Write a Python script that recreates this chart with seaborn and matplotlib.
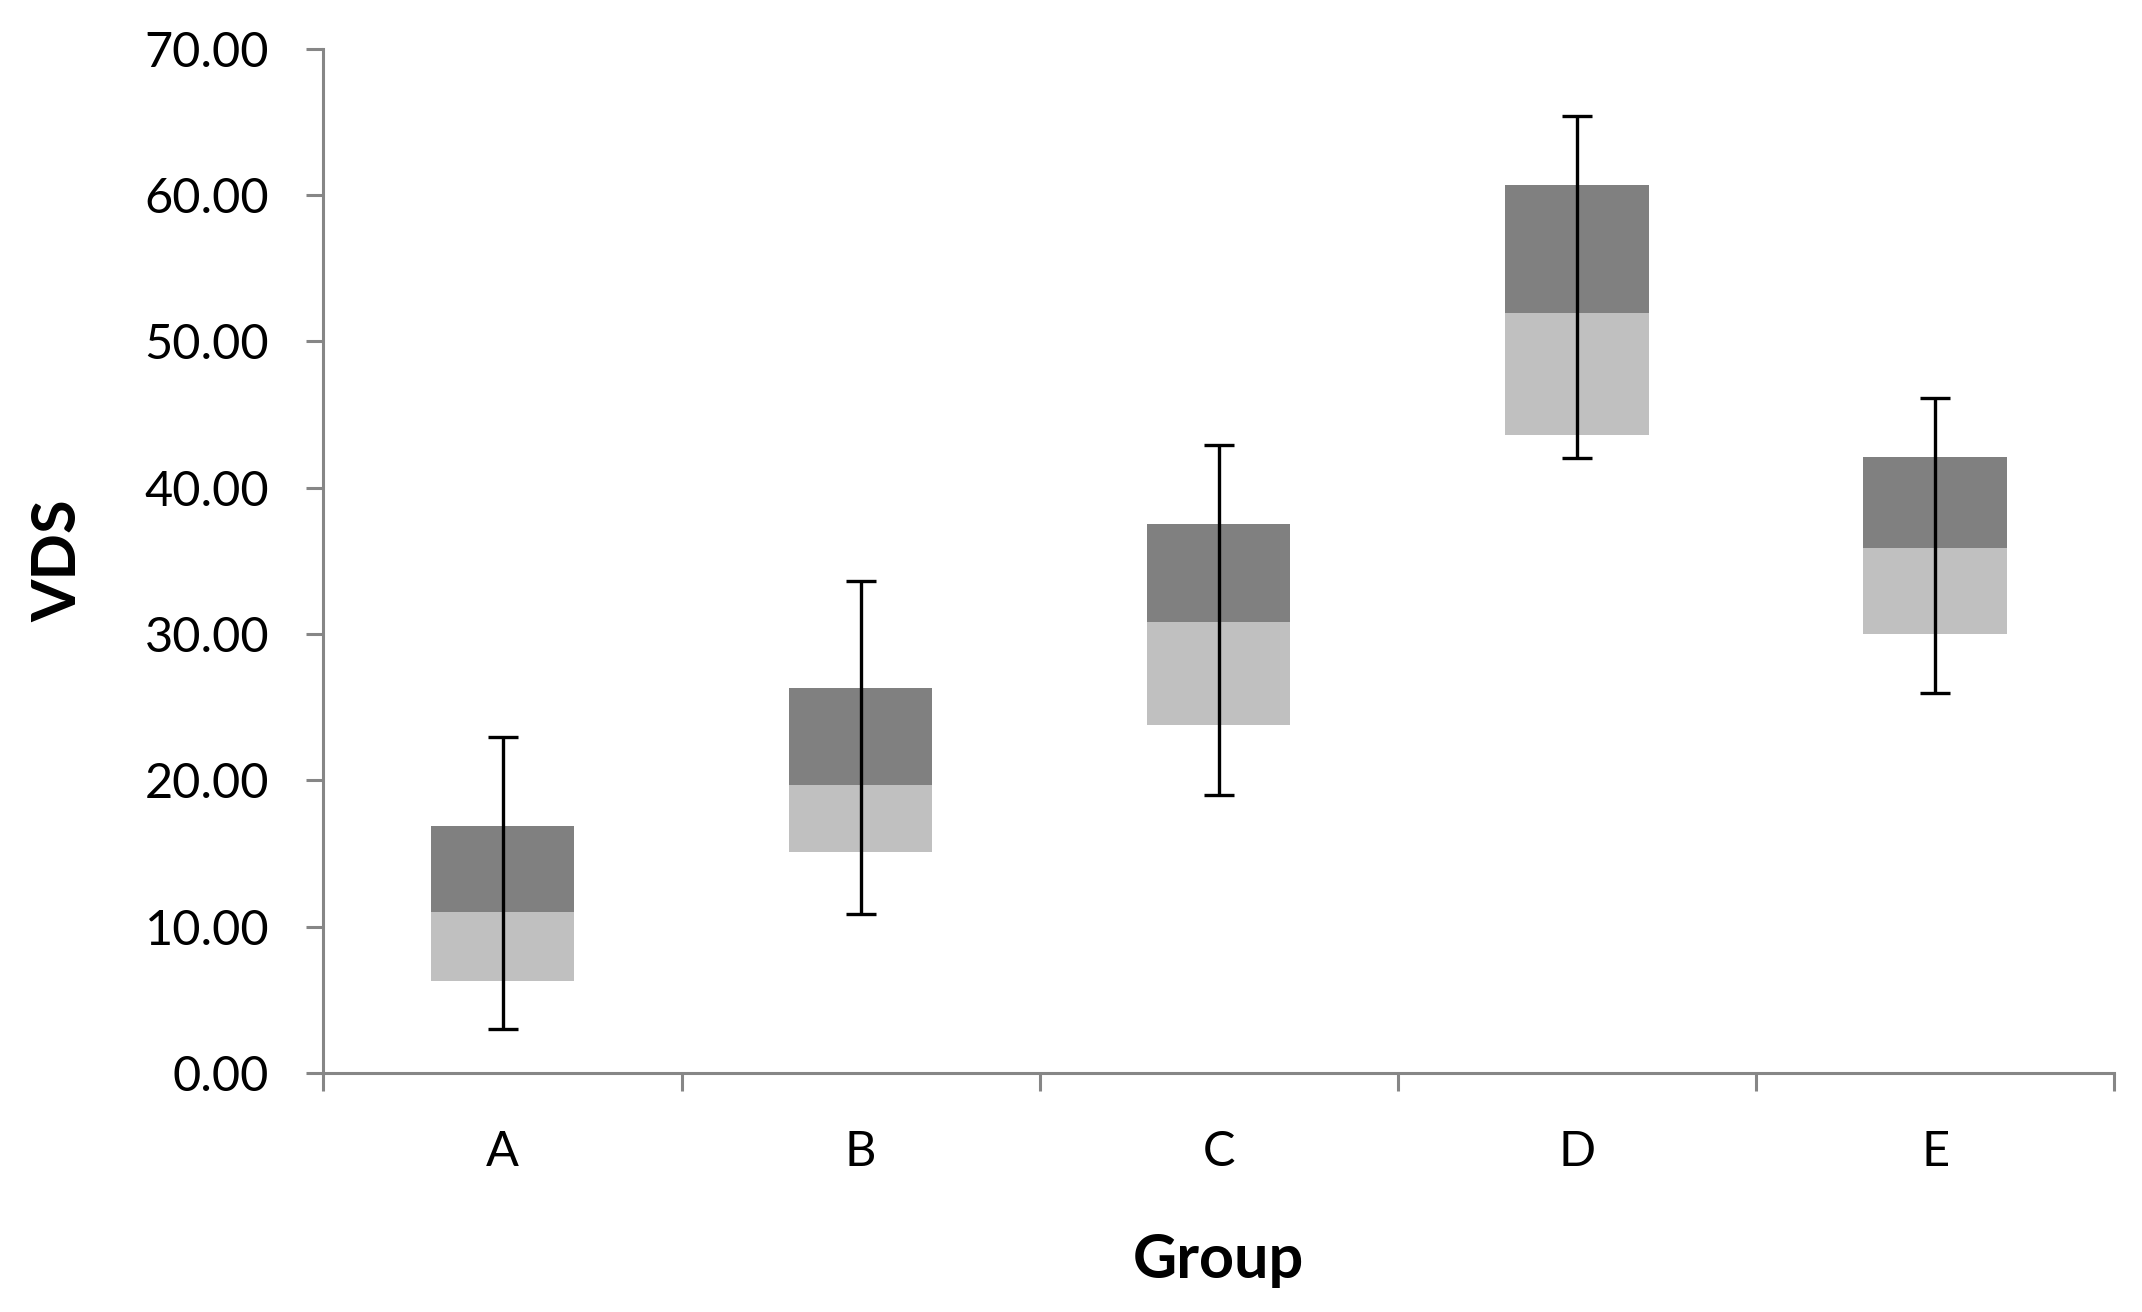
import matplotlib.pyplot as plt
import matplotlib.ticker as mticker
import numpy as np
import seaborn as sns

GROUPS = ["A", "B", "C", "D", "E"]
Q1 = [6.3, 15.1, 23.8, 43.6, 30.0]
MEDIAN = [11.0, 19.7, 30.8, 51.9, 35.9]
Q3 = [16.9, 26.3, 37.5, 60.7, 42.1]
LOW = [3.0, 10.9, 19.0, 42.0, 26.0]
HIGH = [23.0, 33.6, 42.9, 65.4, 46.1]

DARK = "#808080"
LIGHT = "#c0c0c0"
AXIS = "#868686"
FONT = ["Lato", "DejaVu Sans"]


def main() -> None:
    sns.set_theme(style="white")
    plt.rcParams["font.family"] = FONT

    fig, ax = plt.subplots(figsize=(21.42, 13.12), dpi=100)
    fig.subplots_adjust(left=0.151, right=0.987, top=0.963, bottom=0.182)

    x = np.arange(len(GROUPS))
    q1 = np.array(Q1)
    med = np.array(MEDIAN)
    q3 = np.array(Q3)
    ax.bar(x, med - q1, bottom=q1, width=0.4, color=LIGHT, linewidth=0)
    ax.bar(x, q3 - med, bottom=med, width=0.4, color=DARK, linewidth=0)

    low = np.array(LOW)
    high = np.array(HIGH)
    ax.errorbar(x, med, yerr=[med - low, high - med], fmt="none",
                ecolor="black", elinewidth=2.4, capsize=11, capthick=2.4)

    ax.set_xlim(-0.5, len(GROUPS) - 0.5)
    ax.set_ylim(0, 70)
    ax.yaxis.set_major_locator(mticker.MultipleLocator(10))
    ax.yaxis.set_major_formatter(mticker.FormatStrFormatter("%.2f"))

    ax.set_xticks(np.arange(-0.5, len(GROUPS), 1.0))
    ax.set_xticklabels([])
    ax.set_xticks(x, minor=True)
    ax.set_xticklabels(GROUPS, minor=True)
    ax.tick_params(axis="x", which="major", direction="out", length=13,
                   width=2.2, color=AXIS, bottom=True)
    ax.tick_params(axis="x", which="minor", length=0, pad=41,
                   labelsize=35, labelcolor="black")
    ax.tick_params(axis="y", direction="out", length=12, width=2.2,
                   color=AXIS, left=True, pad=27, labelsize=35,
                   labelcolor="black")

    for side in ["top", "right"]:
        ax.spines[side].set_visible(False)
    for side in ["left", "bottom"]:
        ax.spines[side].set_color(AXIS)
        ax.spines[side].set_linewidth(2.2)

    ax.set_xlabel("Group", fontsize=44, fontweight="bold", labelpad=42,
                  color="black")
    ax.set_ylabel("VDS", fontsize=44, fontweight="bold", labelpad=42,
                  color="black")
    ax.grid(False)

    fig.savefig("out.png", dpi=100, facecolor="white")
    plt.close(fig)


if __name__ == "__main__":
    main()
